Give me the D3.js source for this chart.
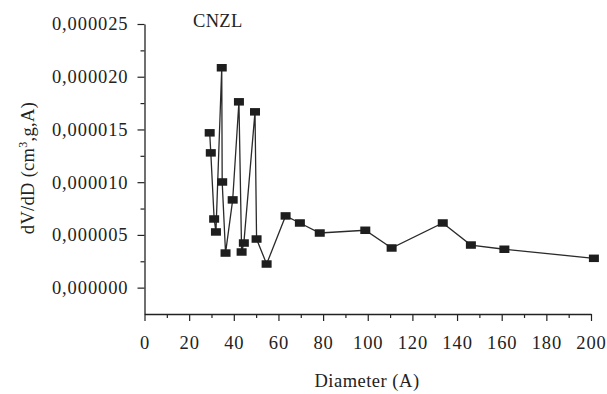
<!DOCTYPE html>
<html>
<head>
<meta charset="utf-8">
<script src="https://cdn.jsdelivr.net/npm/d3@7"></script>
<style>
  body { margin: 0; background: #fff; }
  svg { display: block; }
  text { font-family: "Liberation Serif", "Times New Roman", serif; fill: #222; }
</style>
</head>
<body>
<div id="chart"></div>
<script>
// pore size distribution, CNZL sample
const diameters = [29.2, 29.7, 31.2, 32.0, 34.6, 34.8, 36.3, 39.5, 42.3, 43.5, 44.5, 49.5,
                   50.2, 54.7, 63.2, 69.6, 78.5, 98.9, 110.7, 133.6, 146.2, 161.2, 201.3];
const dvdd = [14.68e-6, 12.78e-6, 6.51e-6, 5.28e-6, 20.85e-6, 10.02e-6, 3.28e-6, 8.32e-6,
              17.62e-6, 3.38e-6, 4.23e-6, 16.67e-6, 4.61e-6, 2.24e-6, 6.80e-6, 6.13e-6,
              5.18e-6, 5.44e-6, 3.76e-6, 6.13e-6, 4.04e-6, 3.64e-6, 2.78e-6];
const xTicks = [0, 20, 40, 60, 80, 100, 120, 140, 160, 180, 200];
const xMinor = [10, 30, 50, 70, 90, 110, 130, 150, 170, 190];
const yTicks = [0, 5e-6, 10e-6, 15e-6, 20e-6, 25e-6];
const yMinor = [2.5e-6, 7.5e-6, 12.5e-6, 17.5e-6, 22.5e-6];

const W = 607, H = 394;
const svg = d3.select("#chart").append("svg").attr("width", W).attr("height", H);

const x = d3.scaleLinear().domain([0, 200]).range([144.5, 591]);
const y = d3.scaleLinear().domain([-2.5e-6, 25e-6]).range([314, 24]);

const fmtY = d => d3.format(".6f")(d).replace(".", ",");
const labelStyle = sel => sel.style("font-size", "18.5px").style("letter-spacing", "0.9px").attr("fill", "#222");

// x axis
const gx = svg.append("g").attr("transform", `translate(0,${y.range()[0]})`);
gx.call(d3.axisBottom(x).tickValues(xTicks).tickSize(7).tickSizeOuter(0).tickPadding(15));
gx.append("g").call(d3.axisBottom(x).tickValues(xMinor).tickSize(4).tickFormat(""))
  .select(".domain").remove();

// y axis
const gy = svg.append("g").attr("transform", `translate(${x.range()[0]},0)`);
gy.call(d3.axisLeft(y).tickValues(yTicks).tickSize(7).tickSizeOuter(0).tickPadding(9).tickFormat(fmtY));
gy.append("g").call(d3.axisLeft(y).tickValues(yMinor).tickSize(4).tickFormat(""))
  .select(".domain").remove();

svg.selectAll(".domain").attr("stroke", "#222").attr("stroke-width", 1.3);
svg.selectAll(".tick line").attr("stroke", "#222").attr("stroke-width", 1.2);
svg.selectAll(".tick text").call(labelStyle).attr("font-family", null);

// line + square markers
const pts = diameters.map((d, i) => [d, dvdd[i]]);
svg.append("path")
  .datum(pts)
  .attr("fill", "none")
  .attr("stroke", "#2a2a2a")
  .attr("stroke-width", 1.3)
  .attr("d", d3.line().x(d => x(d[0])).y(d => y(d[1])));

const mw = 10, mh = 7.5;
svg.selectAll(".marker")
  .data(pts)
  .enter().append("rect")
  .attr("class", "marker")
  .attr("x", d => x(d[0]) - mw / 2)
  .attr("y", d => y(d[1]) - mh / 2)
  .attr("width", mw)
  .attr("height", mh)
  .attr("fill", "#1e1e1e");

// sample label
svg.append("text")
  .attr("x", 193)
  .attr("y", 27)
  .call(labelStyle)
  .style("letter-spacing", "0.3px")
  .text("CNZL");

// axis titles
svg.append("text")
  .attr("x", 367)
  .attr("y", 387)
  .attr("text-anchor", "middle")
  .call(labelStyle)
  .style("letter-spacing", "0.5px")
  .text("Diameter (A)");

const yt = svg.append("text")
  .attr("transform", "translate(34,168) rotate(-90)")
  .attr("text-anchor", "middle")
  .call(labelStyle)
  .style("letter-spacing", "0.3px");
yt.append("tspan").text("dV/dD (cm");
yt.append("tspan").attr("dy", -7).style("font-size", "12px").text("3");
yt.append("tspan").attr("dy", 7).text(",g,A)");
</script>
</body>
</html>
